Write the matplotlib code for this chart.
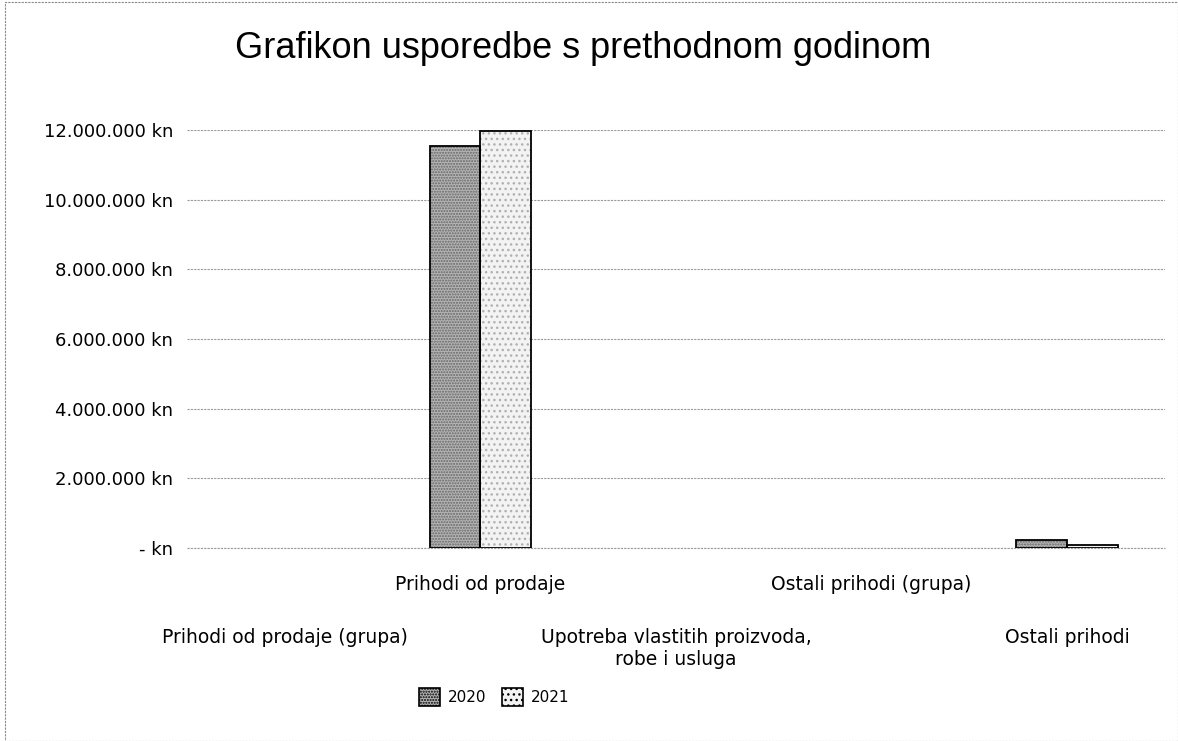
import matplotlib.pyplot as plt
import matplotlib.patches as mpatches
import numpy as np

# chart data
categories = ["Prihodi od prodaje (grupa)", "Prihodi od prodaje",
              "Upotreba vlastitih proizvoda,\nrobe i usluga",
              "Ostali prihodi (grupa)", "Ostali prihodi"]
values_2020 = [0, 11550000, 0, 0, 240000]
values_2021 = [0, 11980000, 0, 0, 100000]
years = ["2020", "2021"]
y_ticks = [0, 2000000, 4000000, 6000000, 8000000, 10000000, 12000000]


def kn_fmt(v):
    if v == 0:
        return "- kn"
    return f"{int(v):,} kn".replace(",", ".")


fig = plt.figure(figsize=(11.78, 7.41), dpi=100)
ax = fig.add_axes([187 / 1178, 1 - 548 / 741, (1165 - 187) / 1178, (548 - 130) / 741])

x = np.arange(len(categories))
w = 0.26
styles = [("#b4b4b4", "#666666", "......"), ("#f3f3f3", "#b0b0b0", "...")]
for k, vals in enumerate([values_2020, values_2021]):
    face, dots, hatch = styles[k]
    pos = x - w / 2 + k * w
    lw = [1.3 if v > 0 else 0 for v in vals]
    # speckle fill, then black outline on top
    ax.bar(pos, vals, w, color=face, edgecolor=dots, linewidth=0, hatch=hatch, zorder=3)
    ax.bar(pos, vals, w, fill=False, edgecolor="black", linewidth=lw, zorder=4)

ax.set_xlim(-0.5, len(categories) - 0.5)
ax.set_ylim(0, 12000000)
ax.set_yticks(y_ticks)
ax.set_yticklabels([kn_fmt(v) for v in y_ticks], fontsize=13, family="DejaVu Sans")
ax.tick_params(axis="y", length=0, pad=10)
ax.set_xticks([])
ax.grid(axis="y", color="#9a9a9a", linestyle=(0, (2, 1)), linewidth=0.8, zorder=0)
ax.axhline(0, color="#9a9a9a", linestyle=(0, (2, 1)), linewidth=0.8, zorder=1, clip_on=False)
for s in ax.spines.values():
    s.set_visible(False)

# staggered category labels
for i, lab in enumerate(categories):
    off = -27 if i % 2 == 1 else -80
    ax.annotate(lab, xy=(i, 0), xycoords=("data", "axes fraction"),
                xytext=(0, off), textcoords="offset pixels",
                ha="center", va="top", fontsize=13.5, linespacing=1.2,
                family="DejaVu Sans")

fig.text(0.495, 0.935, "Grafikon usporedbe s prethodnom godinom",
         ha="center", va="center", fontsize=26, family="Liberation Sans")

handles = [mpatches.Patch(facecolor=styles[k][0], edgecolor="black", linewidth=1.2,
                          hatch=styles[k][2]) for k in range(2)]
fig.legend(handles, years, loc="center", bbox_to_anchor=(494 / 1178, 1 - 697 / 741), ncol=2,
           frameon=False, fontsize=11, handlelength=1.4, handleheight=1.5,
           columnspacing=1.0, handletextpad=0.5)

# light outer border
fig.patches.append(mpatches.Rectangle((0.004, 0.0), 0.996, 0.997, transform=fig.transFigure,
                                      fill=False, edgecolor="#888888", linewidth=0.8,
                                      linestyle=(0, (2, 1))))

fig.savefig("out.png", dpi=100)
